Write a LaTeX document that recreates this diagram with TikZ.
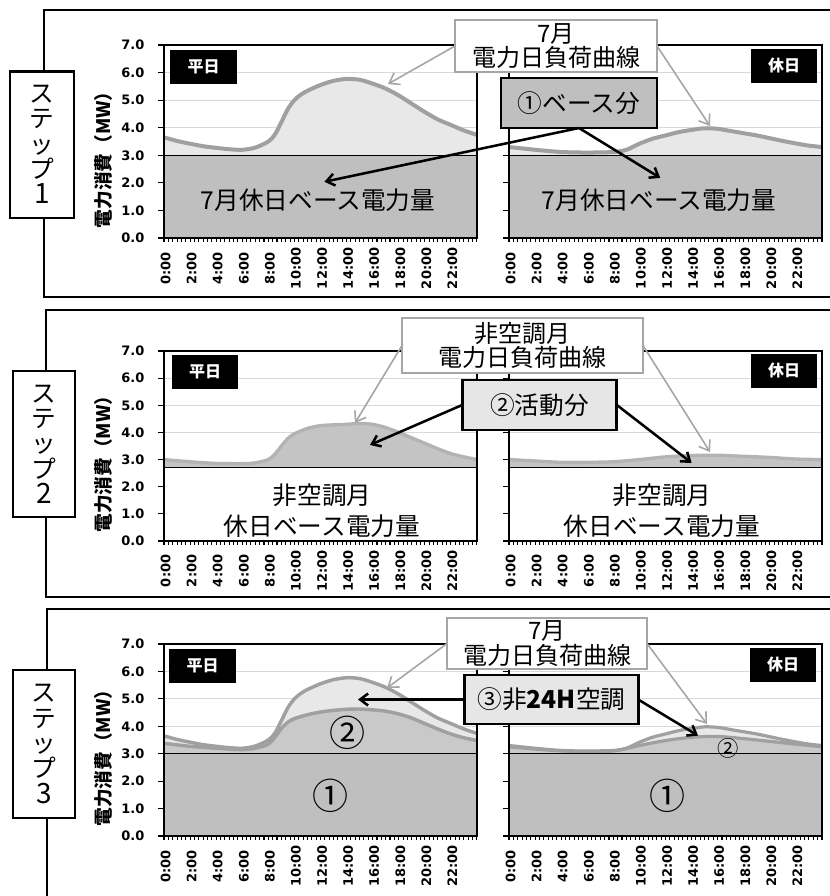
\documentclass[tikz,border=0pt]{standalone}
\usepackage{fontspec}
\setmainfont{Noto Sans CJK JP}
\newfontfamily\tickfont{DejaVu Sans}
\usetikzlibrary{arrows.meta}
\definecolor{basegray}{HTML}{BFBFBF}
\definecolor{lightfill}{HTML}{E8E8E8}
\definecolor{midfill}{HTML}{C4C4C4}
\definecolor{curvegray}{HTML}{A0A0A0}
\definecolor{callgray}{HTML}{A6A6A6}
\definecolor{gridgray}{HTML}{D9D9D9}
\definecolor{boxlight}{HTML}{E6E6E6}
\newcommand\steplead{\fontsize{18.5}{19}\selectfont\setlength{\lineskiplimit}{-30pt}\setlength{\lineskip}{0pt}}
\newcommand\stepdigit[1]{{\fontsize{21}{19}\selectfont #1}}
\tikzset{
  every node/.style={inner sep=0pt, outer sep=0pt},
  panel/.style={line width=2pt},
  stepbox/.style={draw, line width=2pt, fill=white, align=center, font=\steplead},
  gridline/.style={gridgray, line width=0.8pt},
  chartframe/.style={black, line width=1.1pt},
  tickline/.style={black, line width=0.8pt},
  xlab/.style={rotate=90, font=\tickfont\fontsize{9.75}{9.75}\selectfont\bfseries},
  ylab/.style={anchor=east, font=\tickfont\fontsize{9.75}{9.75}\selectfont\bfseries},
  ytitle/.style={rotate=90, font=\fontsize{14}{14}\selectfont\bfseries},
  curve/.style={curvegray, line width=3pt, line join=round},
  basetop/.style={black, line width=1.1pt},
  daybox/.style={fill=black, text=white, minimum width=50pt, minimum height=25.5pt, font=\fontsize{12}{12}\selectfont\bfseries},
  callout/.style={draw=callgray, line width=1.5pt, fill=white, align=center, font=\fontsize{18}{18.5}\selectfont},
  keybox/.style={draw=black, line width=2.2pt, align=center, font=\fontsize{18.5}{18.5}\selectfont},
  grayarrow/.style={callgray, line width=1.2pt, -{Straight Barb[length=7pt,width=10pt]}},
  blackarrow/.style={black, line width=1.9pt, -{Straight Barb[length=6pt,width=9pt]}},
  basetext/.style={font=\fontsize{18.5}{23}\selectfont, align=center},
  bignum/.style={font=\fontsize{27}{27}\selectfont},
}
\newcommand\chgrid{\foreach \v in {4,5,6} \draw[gridline] (0,\v) -- (24,\v);}
\newcommand\chframe{%
  \draw[chartframe] (0,0) rectangle (24,7);
  \foreach \i in {0,...,72} \draw[tickline] (\i/3,0) -- (\i/3,-0.15);
  \foreach \v in {0,...,7} \draw[tickline] (-0.45,\v) -- (0,\v);
  \foreach \h in {0,2,...,22} \node[xlab] (xl\h) at (\h+0.12,-1.1) {\h:00};
}
\newcommand\chylab{%
  \foreach \v in {0,...,7} \node[ylab] (yl\v) at (-1.5,\v) {\v.0};
  \node[ytitle] (yt) at (-4.68,3) {電力消費（MW）};
}
\newcommand\fillcurve[3]{\fill[#1] (0,#2) -- plot[smooth] coordinates {#3} -- (24,#2) -- cycle;}
\newcommand\drawcurve[2]{\draw[#1] plot[smooth] coordinates {#2};}
\newcommand\wdJul[1]{#1{(0,3.65) (1,3.52) (2,3.42) (3,3.33) (4,3.27) (5,3.22) (6,3.2) (7,3.28) (8,3.5) (8.5,3.75) (9,4.2) (9.5,4.68) (10,5.0) (10.5,5.2) (11,5.34) (12,5.55) (13,5.7) (14,5.77) (15,5.74) (16,5.6) (17,5.42) (18,5.17) (19,4.87) (20,4.57) (21,4.3) (22,4.1) (23,3.9) (24,3.74)}}
\newcommand\weJul[1]{#1{(0,3.3) (2,3.2) (4,3.12) (6,3.1) (8,3.12) (9,3.2) (10,3.42) (11,3.6) (12,3.72) (13,3.84) (14,3.92) (15,3.98) (16,3.96) (17,3.88) (18,3.8) (19,3.72) (20,3.62) (21,3.52) (22,3.43) (23,3.35) (24,3.3)}}
\newcommand\wdNon[1]{#1{(0,3.0) (2,2.92) (4,2.86) (6,2.85) (7,2.88) (8,3.0) (8.5,3.2) (9,3.5) (9.5,3.78) (10,3.95) (11,4.15) (12,4.25) (13,4.28) (14,4.3) (15,4.33) (16,4.3) (17,4.18) (18,4.0) (19,3.8) (20,3.6) (21,3.4) (22,3.22) (23,3.1) (24,3.0)}}
\newcommand\weNon[1]{#1{(0,3.0) (2,2.95) (4,2.9) (6,2.9) (8,2.92) (10,3.0) (12,3.1) (14,3.15) (16,3.16) (18,3.12) (20,3.08) (22,3.02) (24,3.0)}}
\newcommand\wdIn[1]{#1{(0,3.38) (2,3.27) (4,3.2) (6,3.15) (7,3.2) (8,3.35) (8.5,3.6) (9,3.92) (9.5,4.15) (10,4.28) (11,4.42) (12,4.52) (13,4.58) (14,4.62) (15,4.63) (16,4.6) (17,4.55) (18,4.45) (19,4.3) (20,4.1) (21,3.9) (22,3.72) (23,3.58) (24,3.48)}}
\newcommand\weIn[1]{#1{(0,3.25) (2,3.17) (4,3.1) (6,3.08) (8,3.1) (10,3.3) (12,3.48) (14,3.6) (16,3.63) (18,3.55) (20,3.45) (22,3.35) (24,3.25)}}
\begin{document}
\begin{tikzpicture}[x=0.75pt,y=-0.75pt]
\useasboundingbox (0,0) rectangle (830,896);
\clip (0,0) rectangle (830,896);
\fill[white] (0,0) rectangle (830,896);

% ---------------- panel frames ----------------
\draw[panel] (845,10) -- (44,10) -- (44,297) -- (845,297);
\draw[panel] (845,310) -- (46,310) -- (46,597) -- (845,597);
\draw[panel] (845,609) -- (47,609) -- (47,905);

% ---------------- STEP 1 ----------------
\begin{scope}[shift={(164,238)},xscale=13.04,yscale=-27.57]
  \chgrid
  \wdJul{\fillcurve{lightfill}{3}}
  \wdJul{\drawcurve{curve}}
  \fill[basegray] (0,0) rectangle (24,3);
  \draw[basetop] (0,3) -- (24,3);
  \chframe
  \chylab
  \coordinate (t1a) at (12.3,2.04);
\end{scope}
\begin{scope}[shift={(509,238)},xscale=13.04,yscale=-27.57]
  \chgrid
  \weJul{\fillcurve{lightfill}{3}}
  \weJul{\drawcurve{curve}}
  \fill[basegray] (0,0) rectangle (24,3);
  \draw[basetop] (0,3) -- (24,3);
  \chframe
  \coordinate (t1b) at (11.6,2.18);
\end{scope}
\node[basetext] (bt1a) at (318,200) {7月休日ベース電力量};
\node[basetext] (bt1b) at (659,200) {7月休日ベース電力量};
\node[daybox] (d1a) at (203.5,67) {平日};
\node[daybox] (d1b) at (784,65.5) {休日};

% ---------------- STEP 2 ----------------
\begin{scope}[shift={(164,541)},xscale=13.04,yscale=-27.14]
  \chgrid
  \wdNon{\fillcurve{midfill}{2.7}}
  \wdNon{\drawcurve{curve, line width=2.5pt, color=curvegray!80}}
  \fill[white] (0,0) rectangle (24,2.7);
  \draw[basetop] (0,2.7) -- (24,2.7);
  \chframe
  \chylab
  \coordinate (t2a) at (15.8,3.54);
\end{scope}
\begin{scope}[shift={(509,541)},xscale=13.04,yscale=-27.14]
  \chgrid
  \weNon{\fillcurve{midfill}{2.7}}
  \weNon{\drawcurve{curve, line width=2.5pt, color=curvegray!80}}
  \fill[white] (0,0) rectangle (24,2.7);
  \draw[basetop] (0,2.7) -- (24,2.7);
  \chframe
  \coordinate (t2b) at (14.0,2.88);
\end{scope}
\node[basetext] (bt2a) at (322,511) {非空調月\\休日ベース電力量};
\node[basetext] (bt2b) at (662,511) {非空調月\\休日ベース電力量};
\node[daybox] (d2a) at (205,372) {平日};
\node[daybox] (d2b) at (784,370.5) {休日};

% ---------------- STEP 3 ----------------
\begin{scope}[shift={(164,836)},xscale=13.04,yscale=-27.43]
  \chgrid
  \wdJul{\fillcurve{lightfill}{3}}
  \wdIn{\fillcurve{basegray!85}{3}}
  \wdJul{\drawcurve{curve, line width=2.6pt}}
  \wdIn{\drawcurve{curve, line width=2.6pt}}
  \fill[basegray] (0,0) rectangle (24,3);
  \draw[basetop] (0,3) -- (24,3);
  \chframe
  \chylab
  \coordinate (t3a) at (14.85,4.6);
\end{scope}
\begin{scope}[shift={(509,836)},xscale=13.04,yscale=-27.43]
  \chgrid
  \weJul{\fillcurve{lightfill}{3}}
  \weIn{\fillcurve{basegray!85}{3}}
  \weJul{\drawcurve{curve, line width=2.4pt}}
  \weIn{\drawcurve{curve, line width=2.4pt}}
  \fill[basegray] (0,0) rectangle (24,3);
  \draw[basetop] (0,3) -- (24,3);
  \chframe
  \coordinate (t3b) at (14.5,3.66);
\end{scope}
\node[bignum] (n1a) at (330,796) {①};
\node[bignum] (n1b) at (667,796) {①};
\node[bignum] (n2a) at (347,733) {②};
\node[font=\fontsize{16}{16}\selectfont] (n2b) at (728,748) {②};
\node[daybox] (d3a) at (202.5,666) {平日};
\node[daybox] (d3b) at (783,664.5) {休日};

% ---------------- callouts ----------------
% step 1
\node[callout, minimum width=151.5pt, minimum height=39pt] (c1) at (556,46) {7月\\電力日負荷曲線};
\coordinate (g1a) at (388,84);
\coordinate (g1b) at (710,126);
\draw[grayarrow] (c1.west) -- (g1a);
\draw[grayarrow] (c1.east) -- (g1b);
\node[keybox, fill=basegray, minimum width=117pt, minimum height=37.5pt] (k1) at (579,103) {①ベース分};
\draw[blackarrow] (k1.south) -- (t1a);
\draw[blackarrow] (k1.south) -- (t1b);

% step 2
\node[callout, minimum width=180.75pt, minimum height=41.25pt] (c2) at (522.5,345.5) {非空調月\\電力日負荷曲線};
\coordinate (g2a) at (355,423);
\coordinate (g2b) at (710,452);
\draw[grayarrow] (c2.west) -- (g2a);
\draw[grayarrow] (c2.east) -- (g2b);
\node[keybox, fill=boxlight, minimum width=116pt, minimum height=37.5pt] (k2) at (539.5,405) {②活動分};
\draw[blackarrow] (k2.west) -- (t2a);
\draw[blackarrow] (k2.east) -- (t2b);

% step 3
\node[callout, minimum width=150pt, minimum height=38.25pt] (c3) at (547,643.5) {7月\\電力日負荷曲線};
\coordinate (g3a) at (387,688);
\coordinate (g3b) at (707,724);
\draw[grayarrow] (c3.west) -- (g3a);
\draw[grayarrow] (c3.east) -- (g3b);
\node[keybox, fill=boxlight, minimum width=130pt, minimum height=36.75pt] (k3) at (551.5,699.5) {③非\textbf{24H}空調};
\coordinate (t3c) at (358,699.5);
\draw[blackarrow] (k3.west) -- (t3c);
\draw[blackarrow] (k3.east) -- (t3b);

% ---------------- step boxes ----------------
\node[stepbox, minimum width=48pt, minimum height=110pt] (s1) at (42,144.5) {ス\\テ\\ッ\\プ\\\stepdigit{1}};
\node[stepbox, minimum width=46.5pt, minimum height=109.5pt] (s2) at (44,444) {ス\\テ\\ッ\\プ\\\stepdigit{2}};
\node[stepbox, minimum width=46.5pt, minimum height=111pt] (s3) at (44,744) {ス\\テ\\ッ\\プ\\\stepdigit{3}};
\end{tikzpicture}
\end{document}
